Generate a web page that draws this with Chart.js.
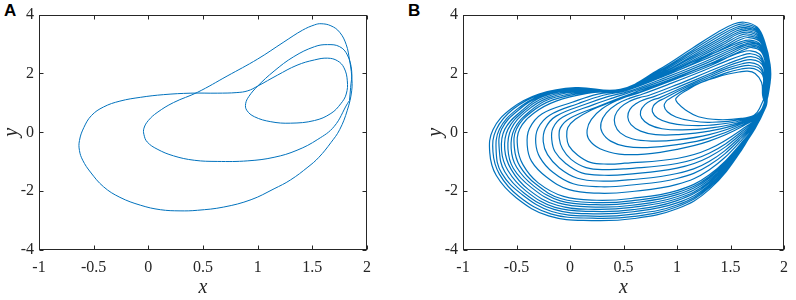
<!DOCTYPE html>
<html>
<head>
<meta charset="utf-8">
<script src="https://cdn.jsdelivr.net/npm/chart.js@4.4.1/dist/chart.umd.min.js"></script>
<style>
  body { margin: 0; background: #fff; width: 796px; height: 300px; position: relative; overflow: hidden; }
  canvas { position: absolute; top: 0; }
  #chartA { left: 0; }
  #chartB { left: 424px; }
  .panel { position: absolute; top: 1px; font: bold 17px 'Liberation Sans', Arial, sans-serif; color: #000; }
</style>
</head>
<body>
<div class="panel" style="left:4px">A</div>
<div class="panel" style="left:408px">B</div>
<canvas id="chartA" width="400" height="300"></canvas>
<canvas id="chartB" width="372" height="300"></canvas>
<script>
// axis ticks (both panels)
const xTicks = [-1, -0.5, 0, 0.5, 1, 1.5, 2];
const yTicks = [-4, -2, 0, 2, 4];

// Panel A: periodic orbit (one closed path)
const orbitA = [
  [1.84,1.08],[1.82,0.97],[1.70,0.20],[1.55,-0.24],[1.36,-0.61],[1.15,-0.85],[0.91,-0.97],
  [0.63,-0.99],[0.42,-0.95],[0.23,-0.80],[0.08,-0.57],[-0.01,-0.33],[-0.04,-0.08],[-0.04,0.14],
  [0.00,0.40],[0.08,0.67],[0.23,1.01],[0.45,1.36],[0.72,1.91],[1.00,2.49],[1.24,3.07],
  [1.41,3.47],[1.52,3.65],[1.58,3.69],[1.67,3.62],[1.75,3.40],[1.81,2.98],[1.84,2.46],
  [1.86,1.91],[1.86,1.41],[1.82,0.75],[1.75,0.09],[1.67,-0.35],[1.56,-0.85],[1.46,-1.18],
  [1.30,-1.62],[1.15,-1.92],[0.94,-2.29],[0.69,-2.54],[0.45,-2.65],[0.29,-2.67],[0.11,-2.63],
  [-0.07,-2.48],[-0.26,-2.21],[-0.41,-1.85],[-0.53,-1.35],[-0.60,-0.95],[-0.63,-0.62],
  [-0.63,-0.28],[-0.59,0.16],[-0.52,0.57],[-0.41,0.86],[-0.26,1.06],[-0.07,1.19],[0.14,1.28],
  [0.39,1.33],[0.63,1.33],[0.81,1.35],[0.91,1.41],[1.00,1.57],[1.18,1.94],[1.36,2.28],
  [1.52,2.46],[1.64,2.52],[1.73,2.43],[1.79,2.19],[1.82,1.75],[1.81,1.30],[1.76,0.97],
  [1.67,0.64],[1.52,0.40],[1.30,0.31],[1.12,0.36],[0.97,0.53],[0.90,0.75],[0.89,0.97],
  [0.92,1.22],[1.00,1.57],[1.15,2.08],[1.33,2.57],[1.52,2.91],[1.64,2.98],[1.75,2.91],
  [1.82,2.63],[1.86,2.08],[1.85,1.52],[1.84,1.08]
];

// Panel B: chaotic attractor, traced as rotations (lower arc + upper arc)
// lower arcs of the left lobe: right edge -> bottom -> left -> pinch
const outerLoops = [
  [[1.83,0.9],[1.6,-0.62],[1.3,-1.95],[1.0,-2.6],[0.6,-2.93],[0.2,-3.0],[-0.2,-2.84],[-0.5,-2.23],[-0.69,-1.46],[-0.75,-0.69],[-0.72,0.09],[-0.55,0.8],[-0.29,1.3],[0.05,1.52],[0.47,1.46]],
  [[1.83,0.88],[1.6,-0.59],[1.3,-1.89],[1.0,-2.53],[0.6,-2.86],[0.21,-2.92],[-0.18,-2.77],[-0.48,-2.17],[-0.66,-1.42],[-0.72,-0.67],[-0.69,0.09],[-0.53,0.79],[-0.28,1.28],[0.05,1.5],[0.47,1.46]],
  [[1.83,0.86],[1.6,-0.57],[1.3,-1.84],[1.0,-2.47],[0.59,-2.78],[0.21,-2.85],[-0.17,-2.69],[-0.45,-2.11],[-0.64,-1.38],[-0.69,-0.65],[-0.66,0.1],[-0.5,0.77],[-0.27,1.26],[0.06,1.48],[0.47,1.45]],
  [[1.82,0.84],[1.6,-0.54],[1.3,-1.79],[1.0,-2.4],[0.59,-2.7],[0.22,-2.77],[-0.15,-2.62],[-0.43,-2.06],[-0.61,-1.34],[-0.66,-0.63],[-0.64,0.1],[-0.48,0.76],[-0.26,1.24],[0.07,1.46],[0.47,1.45]],
  [[1.82,0.82],[1.6,-0.51],[1.3,-1.73],[1.0,-2.32],[0.59,-2.63],[0.22,-2.69],[-0.14,-2.55],[-0.41,-2.0],[-0.58,-1.3],[-0.64,-0.61],[-0.61,0.1],[-0.45,0.74],[-0.25,1.22],[0.08,1.44],[0.47,1.45]],
  [[1.82,0.8],[1.6,-0.48],[1.3,-1.68],[1.0,-2.26],[0.58,-2.55],[0.23,-2.62],[-0.12,-2.48],[-0.39,-1.94],[-0.55,-1.26],[-0.61,-0.58],[-0.58,0.1],[-0.43,0.73],[-0.23,1.19],[0.09,1.42],[0.47,1.45]],
  [[1.82,0.78],[1.6,-0.45],[1.3,-1.62],[1.0,-2.19],[0.58,-2.48],[0.24,-2.54],[-0.11,-2.4],[-0.36,-1.88],[-0.53,-1.22],[-0.58,-0.56],[-0.55,0.11],[-0.41,0.71],[-0.21,1.16],[0.10,1.4],[0.47,1.45]],
  [[1.81,0.76],[1.6,-0.42],[1.3,-1.56],[1.0,-2.12],[0.58,-2.4],[0.24,-2.46],[-0.09,-2.33],[-0.34,-1.82],[-0.5,-1.18],[-0.55,-0.54],[-0.52,0.11],[-0.38,0.7],[-0.19,1.13],[0.12,1.37],[0.48,1.44]],
  [[1.81,0.74],[1.6,-0.4],[1.3,-1.51],[1.0,-2.05],[0.57,-2.33],[0.25,-2.39],[-0.08,-2.26],[-0.32,-1.76],[-0.47,-1.14],[-0.52,-0.52],[-0.5,0.11],[-0.36,0.69],[-0.16,1.1],[0.14,1.35],[0.48,1.44]],
  [[1.81,0.72],[1.6,-0.37],[1.3,-1.45],[1.0,-1.98],[0.57,-2.25],[0.25,-2.31],[-0.06,-2.18],[-0.3,-1.71],[-0.44,-1.1],[-0.49,-0.5],[-0.47,0.11],[-0.33,0.67],[-0.13,1.06],[0.16,1.32],[0.48,1.44]]
];

// middle lower arcs (leftmost between -0.4 and 0)
const middleLoops = [
  [[1.81,0.72],[1.6,-0.28],[1.3,-1.28],[1.0,-1.77],[0.56,-2.02],[0.27,-2.07],[-0.01,-1.95],[-0.22,-1.52],[-0.36,-0.98],[-0.4,-0.43],[-0.38,0.12],[-0.26,0.63],[0.02,1.02],[0.26,1.3],[0.5,1.42]],
  [[1.81,0.72],[1.6,-0.2],[1.3,-1.12],[1.0,-1.57],[0.55,-1.8],[0.29,-1.85],[0.03,-1.75],[-0.16,-1.36],[-0.28,-0.86],[-0.32,-0.37],[-0.3,0.13],[-0.19,0.58],[0.08,0.98],[0.31,1.26],[0.52,1.41]],
  [[1.81,0.72],[1.6,-0.13],[1.3,-0.99],[1.0,-1.4],[0.54,-1.62],[0.31,-1.66],[0.07,-1.56],[-0.1,-1.21],[-0.21,-0.76],[-0.25,-0.32],[-0.23,0.14],[-0.13,0.55],[0.15,0.96],[0.36,1.22],[0.55,1.39]],
  [[1.8,0.72],[1.6,-0.06],[1.3,-0.84],[1.0,-1.22],[0.53,-1.43],[0.32,-1.46],[0.11,-1.38],[-0.04,-1.06],[-0.14,-0.66],[-0.17,-0.26],[-0.16,0.14],[-0.07,0.51],[0.22,0.94],[0.41,1.18],[0.57,1.37]],
  [[1.8,0.72],[1.6,0.01],[1.3,-0.71],[1.0,-1.06],[0.52,-1.24],[0.34,-1.27],[0.15,-1.2],[0.01,-0.92],[-0.07,-0.56],[-0.1,-0.21],[-0.09,0.15],[0.0,0.48],[0.29,0.92],[0.45,1.15],[0.6,1.35]],
  [[1.8,0.72],[1.6,0.08],[1.3,-0.57],[1.0,-0.89],[0.51,-1.05],[0.35,-1.08],[0.19,-1.02],[0.07,-0.77],[-0.01,-0.46],[-0.03,-0.16],[-0.02,0.16],[0.05,0.44],[0.2,0.76],[0.38,1.02],[0.5,1.18],[0.63,1.32]]
];

// inner lower arcs (nested curves around the hole, last one is the hole edge)
const innerLoops = [
  [[1.8,0.72],[1.6,0.18],[1.3,-0.3],[1.0,-0.58],[0.7,-0.74],[0.46,-0.74],[0.28,-0.56],[0.18,-0.26],[0.16,0.08],[0.2,0.44],[0.3,0.8],[0.45,1.1],[0.62,1.33]],
  [[1.8,0.72],[1.6,0.23],[1.3,-0.2],[1.0,-0.42],[0.72,-0.52],[0.52,-0.48],[0.38,-0.3],[0.3,0.0],[0.29,0.32],[0.34,0.66],[0.44,0.96],[0.56,1.16],[0.68,1.3]],
  [[1.79,0.72],[1.6,0.28],[1.3,-0.08],[1.0,-0.26],[0.76,-0.3],[0.58,-0.22],[0.47,-0.02],[0.42,0.26],[0.42,0.56],[0.47,0.84],[0.56,1.06],[0.65,1.18],[0.74,1.26]],
  [[1.79,0.72],[1.6,0.32],[1.3,0.04],[1.0,-0.08],[0.8,-0.08],[0.66,0.04],[0.57,0.26],[0.54,0.52],[0.56,0.78],[0.62,0.98],[0.7,1.12],[0.79,1.22]],
  [[1.79,0.72],[1.6,0.36],[1.3,0.14],[1.05,0.08],[0.86,0.12],[0.74,0.26],[0.67,0.48],[0.66,0.72],[0.7,0.94],[0.76,1.08],[0.84,1.18]],
  [[1.78,0.72],[1.6,0.4],[1.3,0.24],[1.08,0.24],[0.93,0.32],[0.82,0.48],[0.77,0.7],[0.78,0.9],[0.82,1.04],[0.88,1.15]],
  [[1.78,0.72],[1.6,0.44],[1.3,0.34],[1.12,0.4],[0.99,0.52],[0.91,0.7],[0.88,0.9],[0.9,1.06],[0.93,1.14]],
  [[1.77,0.8],[1.72,0.58],[1.6,0.47],[1.39,0.43],[1.2,0.53],[1.08,0.76],[1.01,0.98],[0.99,1.15]]
];

// upper arcs: pinch -> peak -> right edge (one per lower arc, same order)
const outerTops = [
  [[0.83,2.13],[1.14,2.85],[1.38,3.4],[1.53,3.68],[1.63,3.74],[1.75,3.57],[1.82,3.07],[1.87,2.3],[1.87,1.7]],
  [[0.84,2.1],[1.15,2.8],[1.39,3.34],[1.54,3.62],[1.63,3.68],[1.75,3.52],[1.82,3.03],[1.87,2.28],[1.87,1.68]],
  [[0.84,2.07],[1.16,2.76],[1.4,3.28],[1.55,3.56],[1.64,3.62],[1.75,3.47],[1.82,2.99],[1.86,2.26],[1.86,1.66]],
  [[0.85,2.04],[1.17,2.72],[1.41,3.22],[1.55,3.5],[1.64,3.56],[1.76,3.41],[1.82,2.95],[1.86,2.24],[1.86,1.64]],
  [[0.86,2.02],[1.18,2.68],[1.42,3.17],[1.56,3.45],[1.65,3.51],[1.76,3.36],[1.82,2.91],[1.86,2.22],[1.86,1.62]],
  [[0.86,2.0],[1.19,2.64],[1.43,3.12],[1.57,3.4],[1.65,3.46],[1.76,3.31],[1.82,2.87],[1.86,2.2],[1.85,1.6]],
  [[0.87,1.98],[1.2,2.6],[1.44,3.07],[1.57,3.34],[1.66,3.4],[1.76,3.26],[1.82,2.83],[1.85,2.18],[1.85,1.58]],
  [[0.88,1.96],[1.21,2.56],[1.45,3.02],[1.58,3.28],[1.66,3.34],[1.76,3.21],[1.82,2.79],[1.85,2.16],[1.85,1.56]],
  [[0.88,1.94],[1.22,2.52],[1.46,2.97],[1.59,3.22],[1.67,3.28],[1.77,3.15],[1.82,2.75],[1.85,2.14],[1.84,1.54]],
  [[0.89,1.92],[1.23,2.48],[1.47,2.92],[1.6,3.16],[1.67,3.22],[1.77,3.1],[1.82,2.71],[1.85,2.12],[1.84,1.52]]
];
const middleTops = [
  [[0.88,1.98],[1.22,2.5],[1.47,2.88],[1.6,3.08],[1.68,3.13],[1.77,3.02],[1.82,2.66],[1.85,2.1],[1.84,1.5]],
  [[0.9,1.94],[1.24,2.45],[1.48,2.83],[1.61,3.03],[1.68,3.08],[1.77,2.97],[1.82,2.62],[1.84,2.08],[1.84,1.48]],
  [[0.92,1.9],[1.26,2.4],[1.49,2.78],[1.62,2.98],[1.69,3.03],[1.78,2.92],[1.82,2.58],[1.84,2.06],[1.83,1.46]],
  [[0.94,1.86],[1.28,2.36],[1.5,2.73],[1.62,2.93],[1.69,2.98],[1.78,2.87],[1.82,2.54],[1.84,2.04],[1.83,1.44]],
  [[0.96,1.83],[1.3,2.32],[1.51,2.68],[1.63,2.88],[1.7,2.93],[1.78,2.82],[1.82,2.5],[1.84,2.02],[1.83,1.42]],
  [[0.98,1.8],[1.32,2.28],[1.52,2.63],[1.64,2.83],[1.7,2.88],[1.78,2.77],[1.82,2.46],[1.83,2.0],[1.82,1.4]]
];
const innerTops = [
  [[0.9,1.72],[1.2,2.16],[1.44,2.5],[1.6,2.72],[1.69,2.77],[1.77,2.66],[1.81,2.4],[1.83,1.98],[1.82,1.4]],
  [[0.95,1.67],[1.25,2.1],[1.46,2.42],[1.61,2.62],[1.69,2.67],[1.77,2.57],[1.81,2.33],[1.83,1.95],[1.82,1.38]],
  [[1.0,1.62],[1.28,2.04],[1.48,2.34],[1.62,2.52],[1.69,2.57],[1.77,2.48],[1.81,2.26],[1.82,1.92],[1.81,1.36]],
  [[1.03,1.57],[1.3,1.98],[1.48,2.26],[1.61,2.42],[1.69,2.47],[1.77,2.39],[1.81,2.19],[1.82,1.88],[1.81,1.34]],
  [[1.06,1.54],[1.3,1.92],[1.47,2.18],[1.61,2.33],[1.68,2.37],[1.76,2.29],[1.8,2.12],[1.81,1.84],[1.81,1.32]],
  [[1.08,1.52],[1.3,1.86],[1.46,2.1],[1.6,2.24],[1.68,2.27],[1.76,2.2],[1.8,2.03],[1.81,1.78],[1.81,1.3]],
  [[1.1,1.5],[1.3,1.8],[1.46,2.02],[1.6,2.15],[1.68,2.18],[1.75,2.12],[1.8,1.95],[1.81,1.72],[1.8,1.28]],
  [[1.1,1.45],[1.23,1.7],[1.36,1.86],[1.48,1.98],[1.58,2.05],[1.66,2.08],[1.73,2.0],[1.79,1.7],[1.8,1.26]]
];

// order in which the rotations follow each other along the trajectory
const rotationOrder = [
  ['O',0],['I',2],['M',1],['O',4],['I',6],['O',1],['M',4],['I',0],
  ['O',7],['I',4],['M',0],['O',2],['I',7],['O',5],['M',3],['I',1],
  ['O',8],['I',5],['M',2],['O',3],['I',3],['O',6],['M',5],['O',9]
];

const LINE = '#0072BD';
const AXIS = '#262626';
const SERIF = "'Liberation Serif', 'Times New Roman', Tinos, 'DejaVu Serif', serif";

function toXY(arr) {
    return arr.map(p => ({ x: p[0], y: p[1] }));
}

function lineDataset(arr, width) {
    return {
        data: toXY(arr),
        showLine: true,
        borderColor: LINE,
        borderWidth: width,
        pointRadius: 0,
        tension: 0.4,
        fill: false
    };
}

// join the rotations of panel B into one trajectory
function buildTrajectory() {
    const families = {
        O: [outerLoops, outerTops],
        M: [middleLoops, middleTops],
        I: [innerLoops, innerTops]
    };
    let path = [];
    rotationOrder.forEach(([fam, k]) => {
        const [lows, tops] = families[fam];
        path = path.concat(lows[k], tops[k]);
    });
    return path;
}

// box with inward ticks on all four sides, like the original
const boxTicks = {
    id: 'boxTicks',
    afterDraw(chart) {
        const { ctx, chartArea: a, scales } = chart;
        const L = Math.round(a.left) + 0.5, R = Math.round(a.right) - 0.5;
        const T = Math.round(a.top) + 0.5, B = Math.round(a.bottom) - 0.5;
        ctx.save();
        ctx.strokeStyle = AXIS;
        ctx.lineWidth = 1;
        ctx.strokeRect(L, T, R - L, B - T);
        ctx.beginPath();
        xTicks.forEach(v => {
            const px = Math.round(scales.x.getPixelForValue(v)) + 0.5;
            ctx.moveTo(px, B); ctx.lineTo(px, B - 4);
            ctx.moveTo(px, T); ctx.lineTo(px, T + 4);
        });
        yTicks.forEach(v => {
            const py = Math.round(scales.y.getPixelForValue(v)) + 0.5;
            ctx.moveTo(L, py); ctx.lineTo(L + 4, py);
            ctx.moveTo(R, py); ctx.lineTo(R - 4, py);
        });
        ctx.stroke();
        ctx.restore();
    }
};

function makeOptions(padRight) {
    const tickFont = { family: SERIF, size: 16 };
    const titleFont = { family: SERIF, size: 20, style: 'italic' };
    return {
        responsive: false,
        animation: false,
        layout: { padding: { top: 9, right: padRight, left: 0, bottom: 0 } },
        plugins: { legend: { display: false }, tooltip: { enabled: false } },
        scales: {
            x: {
                type: 'linear', min: -1, max: 2,
                grid: { display: false, drawTicks: false },
                border: { display: false },
                afterBuildTicks: s => { s.ticks = xTicks.map(v => ({ value: v })); },
                afterFit: s => { s.height = 50; },
                ticks: { padding: 8, font: tickFont, color: AXIS, callback: v => String(v) },
                title: { display: true, text: 'x', padding: 0, font: titleFont, color: AXIS }
            },
            y: {
                type: 'linear', min: -4, max: 4,
                grid: { display: false, drawTicks: false },
                border: { display: false },
                afterBuildTicks: s => { s.ticks = yTicks.map(v => ({ value: v })); },
                afterFit: s => { s.width = 39; },
                ticks: { padding: 5, font: tickFont, color: AXIS, callback: v => String(v) },
                title: { display: true, text: 'y', padding: 0, font: titleFont, color: AXIS }
            }
        }
    };
}

Chart.defaults.font.family = SERIF;

new Chart(document.getElementById('chartA'), {
    type: 'scatter',
    data: { datasets: [lineDataset(orbitA, 1)] },
    options: makeOptions(33),
    plugins: [boxTicks]
});

new Chart(document.getElementById('chartB'), {
    type: 'scatter',
    data: { datasets: [lineDataset(buildTrajectory(), 1.2)] },
    options: makeOptions(6),
    plugins: [boxTicks]
});
</script>
</body>
</html>
